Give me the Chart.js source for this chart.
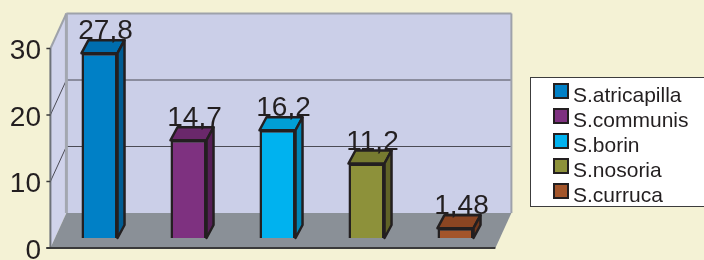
<!DOCTYPE html>
<html>
<head>
<meta charset="utf-8">
<script src="https://cdn.jsdelivr.net/npm/chart.js@4.4.1/dist/chart.umd.min.js"></script>
<style>
  html, body { margin: 0; padding: 0; background: #F4F2D5; }
  canvas { display: block; }
</style>
</head>
<body>
<canvas id="chart" width="704" height="260"></canvas>
<script>
// Données du graphique
const especes = ['S.atricapilla', 'S.communis', 'S.borin', 'S.nosoria', 'S.curruca'];
const valeurs = [27.8, 14.7, 16.2, 11.2, 1.48];
const yMin = 0;
const yMax = 30;
const yPas = 10;

// Couleurs : face avant, dessus, côté
const couleursFace = ['#0080C6', '#7E3180', '#00B2EF', '#8D913A', '#A3552A'];
const couleursDessus = ['#006DAE', '#6A286B', '#009FD6', '#777B30', '#8B4522'];
const couleursCote = ['#005C93', '#561F57', '#0085B5', '#606327', '#70371B'];

// Effet 3D (décalages en pixels)
const PROF_X = 16, PROF_Y = -35;      // profondeur du cadre
const AVANT_X = -4.6, AVANT_Y = 10;   // plan avant par rapport au plan des barres
const BARRE_X = 7, BARRE_Y = -13;     // profondeur des barres
const TRAIT = '#231F20';

function polygone(ctx, pts, fond, trait, epaisseur) {
  ctx.beginPath();
  ctx.moveTo(pts[0][0], pts[0][1]);
  pts.slice(1).forEach(p => ctx.lineTo(p[0], p[1]));
  ctx.closePath();
  if (fond) { ctx.fillStyle = fond; ctx.fill(); }
  if (trait) { ctx.strokeStyle = trait; ctx.lineWidth = epaisseur; ctx.stroke(); }
}

function ligne(ctx, a, b, couleur, epaisseur) {
  ctx.beginPath();
  ctx.moveTo(a[0], a[1]);
  ctx.lineTo(b[0], b[1]);
  ctx.strokeStyle = couleur;
  ctx.lineWidth = epaisseur;
  ctx.stroke();
}

// Plugin : fond, murs et sol du cadre 3D
const cadre3D = {
  id: 'cadre3D',
  beforeDraw(chart) {
    const { ctx, chartArea: a, scales: { y } } = chart;
    const av = (px, py) => [px + AVANT_X, py + AVANT_Y];
    const ar = (px, py) => [px + AVANT_X + PROF_X, py + AVANT_Y + PROF_Y];
    const yHaut = y.getPixelForValue(yMax);
    const yBas = y.getPixelForValue(yMin);

    ctx.save();
    ctx.fillStyle = '#F4F2D5';
    ctx.fillRect(0, 0, chart.width, chart.height);

    // mur du fond
    polygone(ctx, [ar(a.left, yHaut), ar(a.right, yHaut), ar(a.right, yBas), ar(a.left, yBas)], '#CBCFE8');
    // mur de gauche
    polygone(ctx, [av(a.left, yHaut), ar(a.left, yHaut), ar(a.left, yBas), av(a.left, yBas)], '#D0D3EB');
    // sol
    polygone(ctx, [av(a.left, yBas), av(a.right, yBas), ar(a.right, yBas), ar(a.left, yBas)], '#8A9097');

    // lignes de grille
    y.ticks.forEach(t => {
      if (t.value === yMin || t.value === yMax) return;
      const py = y.getPixelForValue(t.value);
      ligne(ctx, ar(a.left, py), ar(a.right, py), '#4B4B55', 1);
      ligne(ctx, av(a.left, py), ar(a.left, py), '#4B4B55', 1);
    });

    // bords du cadre
    ligne(ctx, ar(a.left, yHaut), ar(a.right, yHaut), '#9EA2AA', 2);
    ligne(ctx, ar(a.right, yHaut), ar(a.right, yBas), '#9EA2AA', 2);
    ligne(ctx, ar(a.left, yHaut), ar(a.left, yBas), '#A3A7B0', 3);
    ligne(ctx, av(a.left, yHaut), ar(a.left, yHaut), '#9EA2AA', 2);

    // axe vertical, bord avant du sol et graduations
    ligne(ctx, av(a.left, yHaut), av(a.left, yBas), '#6E737A', 2);
    const g = av(a.left, yBas);
    ligne(ctx, [g[0] - 4, g[1]], av(a.right, yBas), '#3A3A3A', 2);
    y.ticks.forEach(t => {
      const p = av(a.left, y.getPixelForValue(t.value));
      ligne(ctx, [p[0] - 4, p[1]], p, '#3A3A3A', 1.5);
    });
    ctx.restore();
  },

  // dessus et côté des barres, puis étiquettes
  afterDatasetsDraw(chart) {
    const { ctx } = chart;
    const meta = chart.getDatasetMeta(0);
    ctx.save();
    ctx.lineJoin = 'round';
    meta.data.forEach((barre, i) => {
      const { x, y, base, width } = barre.getProps(['x', 'y', 'base', 'width'], true);
      const g = x - width / 2, d = x + width / 2;
      polygone(ctx, [[g, y], [g + BARRE_X, y + BARRE_Y], [d + BARRE_X, y + BARRE_Y], [d, y]], couleursDessus[i], TRAIT, 2.5);
      polygone(ctx, [[d, y], [d + BARRE_X, y + BARRE_Y], [d + BARRE_X, base + BARRE_Y], [d, base]], couleursCote[i], TRAIT, 2.5);
    });
    ctx.font = '28px "Liberation Sans", Arial, sans-serif';
    ctx.fillStyle = TRAIT;
    ctx.textAlign = 'center';
    ctx.textBaseline = 'alphabetic';
    meta.data.forEach((barre, i) => {
      const { x, y } = barre.getProps(['x', 'y'], true);
      ctx.fillText(String(valeurs[i]).replace('.', ','), x + 6, y - 14);
    });
    ctx.restore();
  },

  // légende encadrée
  afterDraw(chart) {
    const { ctx } = chart;
    ctx.save();
    ctx.fillStyle = '#FFFFFF';
    ctx.fillRect(530.5, 77.5, 200, 129);
    ctx.strokeStyle = '#3C3C3C';
    ctx.lineWidth = 1;
    ctx.strokeRect(530.5, 77.5, 200, 129);
    ctx.font = '21px "Liberation Sans", Arial, sans-serif';
    ctx.textAlign = 'left';
    ctx.textBaseline = 'middle';
    especes.forEach((nom, i) => {
      const cy = 95 + i * 25;
      ctx.fillStyle = couleursFace[i];
      ctx.fillRect(554, cy - 11, 14, 14);
      ctx.strokeStyle = TRAIT;
      ctx.lineWidth = 2;
      ctx.strokeRect(554, cy - 11, 14, 14);
      ctx.fillStyle = TRAIT;
      ctx.fillText(nom, 573, cy + 1);
    });
    ctx.restore();
  }
};

new Chart(document.getElementById('chart'), {
  type: 'bar',
  data: {
    labels: especes,
    datasets: [{
      data: valeurs,
      backgroundColor: couleursFace,
      borderColor: TRAIT,
      borderWidth: 2.5,
      barPercentage: 0.405,
      categoryPercentage: 1
    }]
  },
  options: {
    responsive: false,
    animation: false,
    layout: { padding: { left: 0, top: 38.5, right: 204, bottom: 22 } },
    plugins: {
      legend: { display: false },
      tooltip: { enabled: false }
    },
    scales: {
      x: { display: false },
      y: {
        min: yMin,
        max: yMax,
        ticks: {
          stepSize: yPas,
          padding: 14,
          labelOffset: 13,
          color: TRAIT,
          font: { family: 'Liberation Sans', size: 28 }
        },
        grid: { display: false, drawTicks: false },
        border: { display: false },
        afterFit: s => {
          s.width = 55;
          // pas de marge automatique : la zone est fixée par layout.padding
          s.paddingTop = 0;
          s.paddingBottom = 0;
        }
      }
    }
  },
  plugins: [cadre3D]
});
</script>
</body>
</html>
